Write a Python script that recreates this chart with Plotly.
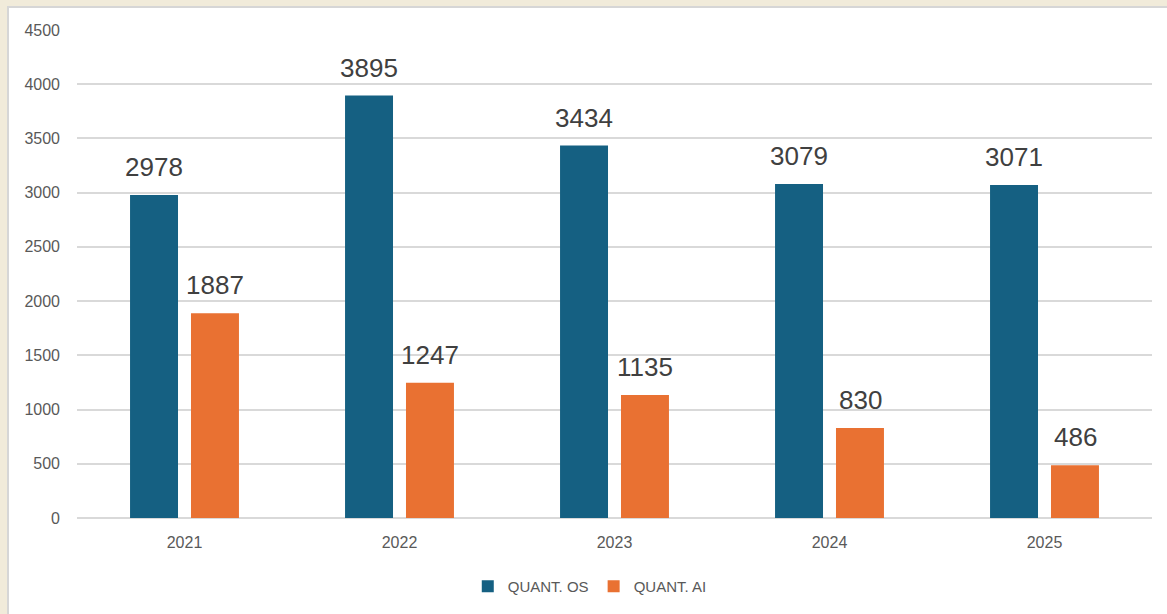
import plotly.graph_objects as go

years = ["2021", "2022", "2023", "2024", "2025"]
quant_os = [2978, 3895, 3434, 3079, 3071]
quant_ai = [1887, 1247, 1135, 830, 486]

BLUE = "#156082"
ORANGE = "#E97132"
_FONT = dict(family="Liberation Sans, Arial, sans-serif", size=16, color="#595959")

fig = go.Figure()
fig.add_trace(go.Bar(name="QUANT. OS", x=years, y=quant_os, marker=dict(color=BLUE, line=dict(width=0))))
fig.add_trace(go.Bar(name="QUANT. AI", x=years, y=quant_ai, marker=dict(color=ORANGE, line=dict(width=0))))

# data labels above each bar (x as category index: "2021" would be read as index 2021)
for vals, shift in ((quant_os, -30.5), (quant_ai, 30.5)):
    for i, v in enumerate(vals):
        fig.add_annotation(
            x=i, y=v, text=str(v), showarrow=False,
            xshift=shift, yshift=28, yanchor="middle",
            font=dict(family=_FONT["family"], size=26, color="#404040"),
        )

# white panel on beige frame
fig.add_shape(
    type="rect", xref="paper", yref="paper", layer="below",
    x0=(8 - 77) / 1075, x1=1.03, y0=-0.25, y1=(519 - 7) / 489,
    fillcolor="white", line=dict(color="#d6d6d6", width=2),
)

fig.update_layout(
    width=1167,
    height=614,
    paper_bgcolor="#f1ebda",
    plot_bgcolor="white",
    font=_FONT,
    barmode="group",
    bargap=0.433,
    bargroupgap=0.213,
    margin=dict(l=77, r=15, t=30, b=95),
    xaxis=dict(type="category", range=[-0.5, len(years) - 0.5], showgrid=False, showline=False,
               ticks="", ticklabelstandoff=13, tickfont=dict(size=16, color="#595959")),
    yaxis=dict(
        range=[0, 4500], dtick=500, gridcolor="#d9d9d9", gridwidth=1.5,
        zeroline=True, zerolinecolor="#d9d9d9", zerolinewidth=1.5,
        ticklabelstandoff=16, tickfont=dict(size=16, color="#595959"),
    ),
    legend=dict(orientation="h", x=0.477, xanchor="center", y=-0.138, yanchor="middle",
                bgcolor="rgba(0,0,0,0)", font=dict(size=15, color="#595959"),
                traceorder="normal"),
    showlegend=True,
)

fig.write_html(
    "out.html",
    config=dict(displayModeBar=False),
    post_script="document.body.style.margin='0';document.body.style.background='#f1ebda';",
)
